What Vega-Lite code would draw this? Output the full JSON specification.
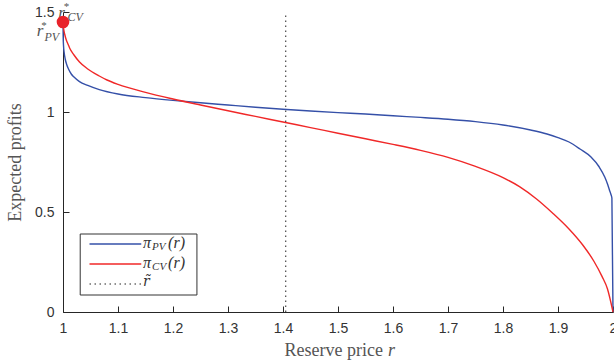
{
  "$schema": "https://vega.github.io/schema/vega-lite/v6.json",
  "width": 550,
  "height": 300,
  "autosize": {"type": "none"},
  "padding": {"left": 63, "top": 12, "right": 1, "bottom": 51},
  "background": "white",
  "config": {
    "view": {"stroke": null},
    "axis": {
      "grid": false,
      "domainColor": "#262626",
      "tickColor": "#262626",
      "labelColor": "#333333",
      "labelFont": "Liberation Sans",
      "labelFontSize": 14,
      "tickSize": -6,
      "titleFont": "Liberation Serif",
      "titleFontSize": 18,
      "titleFontWeight": "normal",
      "titleColor": "#555555"
    }
  },
  "datasets": {
    "curves": [
      {"r": 1, "profit": 1.45, "series": "PV"},
      {"r": 1.0003, "profit": 1.38, "series": "PV"},
      {"r": 1.001, "profit": 1.33, "series": "PV"},
      {"r": 1.002, "profit": 1.3, "series": "PV"},
      {"r": 1.004, "profit": 1.265, "series": "PV"},
      {"r": 1.007, "profit": 1.235, "series": "PV"},
      {"r": 1.01, "profit": 1.215, "series": "PV"},
      {"r": 1.015, "profit": 1.19, "series": "PV"},
      {"r": 1.02, "profit": 1.175, "series": "PV"},
      {"r": 1.03, "profit": 1.152, "series": "PV"},
      {"r": 1.045, "profit": 1.133, "series": "PV"},
      {"r": 1.066, "profit": 1.112, "series": "PV"},
      {"r": 1.1, "profit": 1.09, "series": "PV"},
      {"r": 1.15, "profit": 1.072, "series": "PV"},
      {"r": 1.2, "profit": 1.058, "series": "PV"},
      {"r": 1.25, "profit": 1.046, "series": "PV"},
      {"r": 1.3, "profit": 1.035, "series": "PV"},
      {"r": 1.35, "profit": 1.024, "series": "PV"},
      {"r": 1.4, "profit": 1.014, "series": "PV"},
      {"r": 1.45, "profit": 1.005, "series": "PV"},
      {"r": 1.5, "profit": 0.997, "series": "PV"},
      {"r": 1.55, "profit": 0.99, "series": "PV"},
      {"r": 1.6, "profit": 0.981, "series": "PV"},
      {"r": 1.65, "profit": 0.973, "series": "PV"},
      {"r": 1.7, "profit": 0.964, "series": "PV"},
      {"r": 1.75, "profit": 0.952, "series": "PV"},
      {"r": 1.8, "profit": 0.935, "series": "PV"},
      {"r": 1.85, "profit": 0.91, "series": "PV"},
      {"r": 1.88, "profit": 0.89, "series": "PV"},
      {"r": 1.9, "profit": 0.872, "series": "PV"},
      {"r": 1.92, "profit": 0.85, "series": "PV"},
      {"r": 1.94, "profit": 0.815, "series": "PV"},
      {"r": 1.96, "profit": 0.775, "series": "PV"},
      {"r": 1.975, "profit": 0.725, "series": "PV"},
      {"r": 1.985, "profit": 0.675, "series": "PV"},
      {"r": 1.99, "profit": 0.64, "series": "PV"},
      {"r": 1.9935, "profit": 0.61, "series": "PV"},
      {"r": 1.996, "profit": 0.59, "series": "PV"},
      {"r": 1.998, "profit": 0.57, "series": "PV"},
      {"r": 2, "profit": 0, "series": "PV"},
      {"r": 1, "profit": 1.45, "series": "CV"},
      {"r": 1.001, "profit": 1.42, "series": "CV"},
      {"r": 1.003, "profit": 1.39, "series": "CV"},
      {"r": 1.006, "profit": 1.36, "series": "CV"},
      {"r": 1.009, "profit": 1.34, "series": "CV"},
      {"r": 1.012, "profit": 1.32, "series": "CV"},
      {"r": 1.02, "profit": 1.285, "series": "CV"},
      {"r": 1.03, "profit": 1.25, "series": "CV"},
      {"r": 1.045, "profit": 1.215, "series": "CV"},
      {"r": 1.066, "profit": 1.18, "series": "CV"},
      {"r": 1.08, "profit": 1.16, "series": "CV"},
      {"r": 1.1, "profit": 1.138, "series": "CV"},
      {"r": 1.15, "profit": 1.098, "series": "CV"},
      {"r": 1.2, "profit": 1.065, "series": "CV"},
      {"r": 1.25, "profit": 1.035, "series": "CV"},
      {"r": 1.3, "profit": 1.006, "series": "CV"},
      {"r": 1.35, "profit": 0.978, "series": "CV"},
      {"r": 1.4, "profit": 0.95, "series": "CV"},
      {"r": 1.45, "profit": 0.922, "series": "CV"},
      {"r": 1.5, "profit": 0.894, "series": "CV"},
      {"r": 1.55, "profit": 0.866, "series": "CV"},
      {"r": 1.6, "profit": 0.838, "series": "CV"},
      {"r": 1.65, "profit": 0.808, "series": "CV"},
      {"r": 1.7, "profit": 0.773, "series": "CV"},
      {"r": 1.75, "profit": 0.728, "series": "CV"},
      {"r": 1.8, "profit": 0.672, "series": "CV"},
      {"r": 1.83, "profit": 0.627, "series": "CV"},
      {"r": 1.861, "profit": 0.565, "series": "CV"},
      {"r": 1.89, "profit": 0.495, "series": "CV"},
      {"r": 1.92, "profit": 0.415, "series": "CV"},
      {"r": 1.945, "profit": 0.335, "series": "CV"},
      {"r": 1.965, "profit": 0.255, "series": "CV"},
      {"r": 1.98, "profit": 0.178, "series": "CV"},
      {"r": 1.99, "profit": 0.115, "series": "CV"},
      {"r": 2, "profit": 0, "series": "CV"}
    ],
    "rtilde": [{"r": 1.405, "y0": 0, "y1": 1.5}],
    "box": [{"x0": 1.0313, "x1": 1.2435, "y0": 0.085, "y1": 0.39}],
    "legend": [
      {"series": "PV", "x0": 1.0482, "x1": 1.1423, "y": 0.34, "tx": 1.1456, "sub": "PV"},
      {"series": "CV", "x0": 1.0482, "x1": 1.1423, "y": 0.24, "tx": 1.1456, "sub": "CV"}
    ],
    "legendDot": [{"x0": 1.0482, "x1": 1.1423, "y": 0.14, "tx": 1.1456}],
    "star": [{"r": 1, "profit": 1.45}],
    "xtitle": [{"r": 1.5, "profit": 0}]
  },
  "layer": [
    {
      "data": {"name": "curves"},
      "mark": {"type": "line", "strokeWidth": 1.4, "interpolate": "monotone"},
      "encoding": {
        "x": {
          "field": "r", "type": "quantitative",
          "scale": {"domain": [1, 2], "nice": false, "zero": false},
          "axis": {
            "values": [1, 1.1, 1.2, 1.3, 1.4, 1.5, 1.6, 1.7, 1.8, 1.9, 2],
            "format": "~g", "labelPadding": 15, "title": null,
            "labelFlush": false, "labelOverlap": false
          }
        },
        "y": {
          "field": "profit", "type": "quantitative",
          "scale": {"domain": [0, 1.5], "nice": false, "zero": false},
          "axis": {
            "values": [0, 0.5, 1, 1.5],
            "format": "~g", "labelPadding": 15,
            "title": "Expected profits", "titlePadding": 10,
            "labelFlush": false, "labelOverlap": false
          }
        },
        "color": {
          "field": "series", "type": "nominal",
          "scale": {"domain": ["PV", "CV"], "range": ["#3550a8", "#f02828"]},
          "legend": null
        }
      }
    },
    {
      "data": {"name": "rtilde"},
      "mark": {"type": "rule", "color": "#222222", "strokeWidth": 1, "strokeDash": [1.5, 3.5]},
      "encoding": {
        "x": {"field": "r", "type": "quantitative"},
        "y": {"field": "y0", "type": "quantitative"},
        "y2": {"field": "y1"}
      }
    },
    {
      "data": {"name": "box"},
      "mark": {"type": "rect", "fill": "white", "stroke": "#333333", "strokeWidth": 1},
      "encoding": {
        "x": {"field": "x0", "type": "quantitative"},
        "x2": {"field": "x1"},
        "y": {"field": "y0", "type": "quantitative"},
        "y2": {"field": "y1"}
      }
    },
    {
      "data": {"name": "legend"},
      "mark": {"type": "rule", "strokeWidth": 1.4},
      "encoding": {
        "x": {"field": "x0", "type": "quantitative"},
        "x2": {"field": "x1"},
        "y": {"field": "y", "type": "quantitative"},
        "color": {"field": "series", "type": "nominal", "legend": null}
      }
    },
    {
      "data": {"name": "legendDot"},
      "mark": {"type": "rule", "color": "#222222", "strokeWidth": 1, "strokeDash": [1.5, 3.5]},
      "encoding": {
        "x": {"field": "x0", "type": "quantitative"},
        "x2": {"field": "x1"},
        "y": {"field": "y", "type": "quantitative"}
      }
    },
    {
      "data": {"name": "legend"},
      "mark": {"type": "text", "text": "π", "font": "Liberation Serif", "fontStyle": "italic", "fontSize": 16, "align": "left", "baseline": "middle", "color": "#333333", "dx": 0, "dy": -1},
      "encoding": {
        "x": {"field": "tx", "type": "quantitative"},
        "y": {"field": "y", "type": "quantitative"}
      }
    },
    {
      "data": {"name": "legend"},
      "mark": {"type": "text", "font": "Liberation Serif", "fontStyle": "italic", "fontSize": 11, "align": "left", "baseline": "middle", "color": "#333333", "dx": 9, "dy": 3},
      "encoding": {
        "x": {"field": "tx", "type": "quantitative"},
        "y": {"field": "y", "type": "quantitative"},
        "text": {"field": "sub"}
      }
    },
    {
      "data": {"name": "legend"},
      "mark": {"type": "text", "text": "(r)", "font": "Liberation Serif", "fontStyle": "italic", "fontSize": 16, "align": "left", "baseline": "middle", "color": "#333333", "dx": 25, "dy": -1},
      "encoding": {
        "x": {"field": "tx", "type": "quantitative"},
        "y": {"field": "y", "type": "quantitative"}
      }
    },
    {
      "data": {"name": "legendDot"},
      "mark": {"type": "text", "text": "r̃", "font": "DejaVu Serif", "fontStyle": "italic", "fontSize": 14, "align": "left", "baseline": "middle", "color": "#333333", "dx": 0, "dy": -2},
      "encoding": {
        "x": {"field": "tx", "type": "quantitative"},
        "y": {"field": "y", "type": "quantitative"}
      }
    },
    {
      "data": {"name": "xtitle"},
      "mark": {"type": "text", "text": "Reserve price", "font": "Liberation Serif", "fontSize": 18, "align": "right", "baseline": "middle", "color": "#555555", "dx": 45, "dy": 39},
      "encoding": {
        "x": {"field": "r", "type": "quantitative"},
        "y": {"field": "profit", "type": "quantitative"}
      }
    },
    {
      "data": {"name": "xtitle"},
      "mark": {"type": "text", "text": "r", "font": "Liberation Serif", "fontStyle": "italic", "fontSize": 18, "align": "left", "baseline": "middle", "color": "#555555", "dx": 50, "dy": 39},
      "encoding": {
        "x": {"field": "r", "type": "quantitative"},
        "y": {"field": "profit", "type": "quantitative"}
      }
    },
    {
      "data": {"name": "star"},
      "mark": {"type": "text", "text": "r", "font": "Liberation Serif", "fontStyle": "italic", "fontSize": 17, "align": "center", "baseline": "middle", "color": "#555555", "dx": -1.5, "dy": -9},
      "encoding": {
        "x": {"field": "r", "type": "quantitative"},
        "y": {"field": "profit", "type": "quantitative"}
      }
    },
    {
      "data": {"name": "star"},
      "mark": {"type": "text", "text": "r", "font": "Liberation Serif", "fontStyle": "italic", "fontSize": 17, "align": "center", "baseline": "middle", "color": "#555555", "dx": -23, "dy": 9},
      "encoding": {
        "x": {"field": "r", "type": "quantitative"},
        "y": {"field": "profit", "type": "quantitative"}
      }
    },
    {
      "data": {"name": "star"},
      "mark": {"type": "point", "filled": true, "color": "#e8222a", "opacity": 1, "size": 160},
      "encoding": {
        "x": {"field": "r", "type": "quantitative"},
        "y": {"field": "profit", "type": "quantitative"}
      }
    },
    {
      "data": {"name": "star"},
      "mark": {"type": "text", "text": "*", "font": "Liberation Serif", "fontSize": 11, "align": "center", "baseline": "middle", "color": "#555555", "dx": 3.5, "dy": -15},
      "encoding": {
        "x": {"field": "r", "type": "quantitative"},
        "y": {"field": "profit", "type": "quantitative"}
      }
    },
    {
      "data": {"name": "star"},
      "mark": {"type": "text", "text": "CV", "font": "Liberation Serif", "fontStyle": "italic", "fontSize": 12, "align": "left", "baseline": "middle", "color": "#555555", "dx": 4.5, "dy": -5},
      "encoding": {
        "x": {"field": "r", "type": "quantitative"},
        "y": {"field": "profit", "type": "quantitative"}
      }
    },
    {
      "data": {"name": "star"},
      "mark": {"type": "text", "text": "*", "font": "Liberation Serif", "fontSize": 11, "align": "center", "baseline": "middle", "color": "#555555", "dx": -19, "dy": 4},
      "encoding": {
        "x": {"field": "r", "type": "quantitative"},
        "y": {"field": "profit", "type": "quantitative"}
      }
    },
    {
      "data": {"name": "star"},
      "mark": {"type": "text", "text": "PV", "font": "Liberation Serif", "fontStyle": "italic", "fontSize": 12, "align": "left", "baseline": "middle", "color": "#555555", "dx": -18.5, "dy": 15},
      "encoding": {
        "x": {"field": "r", "type": "quantitative"},
        "y": {"field": "profit", "type": "quantitative"}
      }
    }
  ]
}
